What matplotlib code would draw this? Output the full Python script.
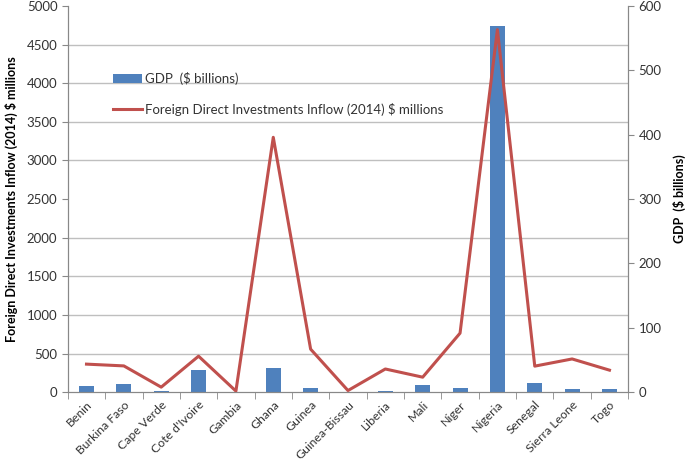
import matplotlib
matplotlib.use("Agg")
import matplotlib.pyplot as plt
import numpy as np

plt.rcParams['font.family'] = ['Lato', 'DejaVu Sans']

countries = ["Benin", "Burkina Faso", "Cape Verde", "Cote d'Ivoire", "Gambia",
             "Ghana", "Guinea", "Guinea-Bissau", "Liberia", "Mali", "Niger",
             "Nigeria", "Senegal", "Sierra Leone", "Togo"]
# GDP, $ billions (right axis)
gdp = [9, 12, 2, 34, 1, 38, 6, 1, 2, 11, 7, 569, 15, 5, 5]
# FDI inflow 2014, $ millions (left axis)
fdi = [363, 340, 65, 466, 14, 3300, 557, 21, 300, 194, 764, 4694, 337, 430, 285]

bar_col = "#4F81BD"
line_col = "#C0504D"
grid_col = "#BFBFBF"

fig = plt.figure(figsize=(6.85, 4.63), dpi=100)
ax = fig.add_axes([0.099, 0.153, 0.818, 0.834])
ax2 = ax.twinx()

x = np.arange(len(countries))

# bars behind, line in front
ax2.bar(x, gdp, width=0.4, color=bar_col, label="GDP  ($ billions)", zorder=2)
ax.plot(x, fdi, color=line_col, lw=2.2,
        label="Foreign Direct Investments Inflow (2014) $ millions", zorder=3)
ax.set_zorder(ax2.get_zorder() + 1)
ax.patch.set_visible(False)

ax.set_xlim(-0.5, len(countries) - 0.5)
ax.set_ylim(0, 5000)
ax.set_yticks(np.arange(0, 5001, 500))
ax2.set_ylim(0, 600)
ax2.set_yticks(np.arange(0, 601, 100))

# gridlines drawn on the back axes so they sit under the bars
ax2.set_yticks(np.arange(0, 601, 60), minor=True)
ax2.grid(which="minor", axis="y", color=grid_col, lw=1, zorder=0)
ax2.tick_params(axis="y", which="minor", length=0)
ax2.set_axisbelow(True)

ax.set_xticks(x)
ax.set_xticklabels(countries, rotation=45, ha="right", rotation_mode="anchor",
                   fontsize=8.8)
ax.set_xticks(np.arange(-0.5, len(countries), 1), minor=True)
ax.tick_params(axis="x", which="major", length=0, pad=5)
ax.tick_params(axis="x", which="minor", length=5, color="#888888")
ax.tick_params(axis="x", colors="#333333")
ax.tick_params(axis="y", labelsize=9.5, colors="#333333", length=4)
ax.tick_params(axis="y", color="#888888")
ax2.tick_params(axis="y", which="major", labelsize=9.5, length=4,
                color="#888888", labelcolor="#333333")

for a in (ax, ax2):
    a.spines["top"].set_visible(False)
    for s in ("left", "right", "bottom"):
        a.spines[s].set_color("#888888")

ax.set_ylabel("Foreign Direct Investments Inflow (2014) $ millions",
              fontsize=9, fontweight="bold", labelpad=6)
ax2.set_ylabel("GDP  ($ billions)", fontsize=9, fontweight="bold", labelpad=8)

h1, l1 = ax2.get_legend_handles_labels()
h2, l2 = ax.get_legend_handles_labels()
leg = ax.legend(h1 + h2, l1 + l2, loc="upper left", bbox_to_anchor=(0.06, 0.86),
                frameon=False, fontsize=9.5, handlelength=2.2,
                labelspacing=1.35, handletextpad=0.2)
for t in leg.get_texts():
    t.set_color("#333333")

fig.savefig("out.png", dpi=100)
